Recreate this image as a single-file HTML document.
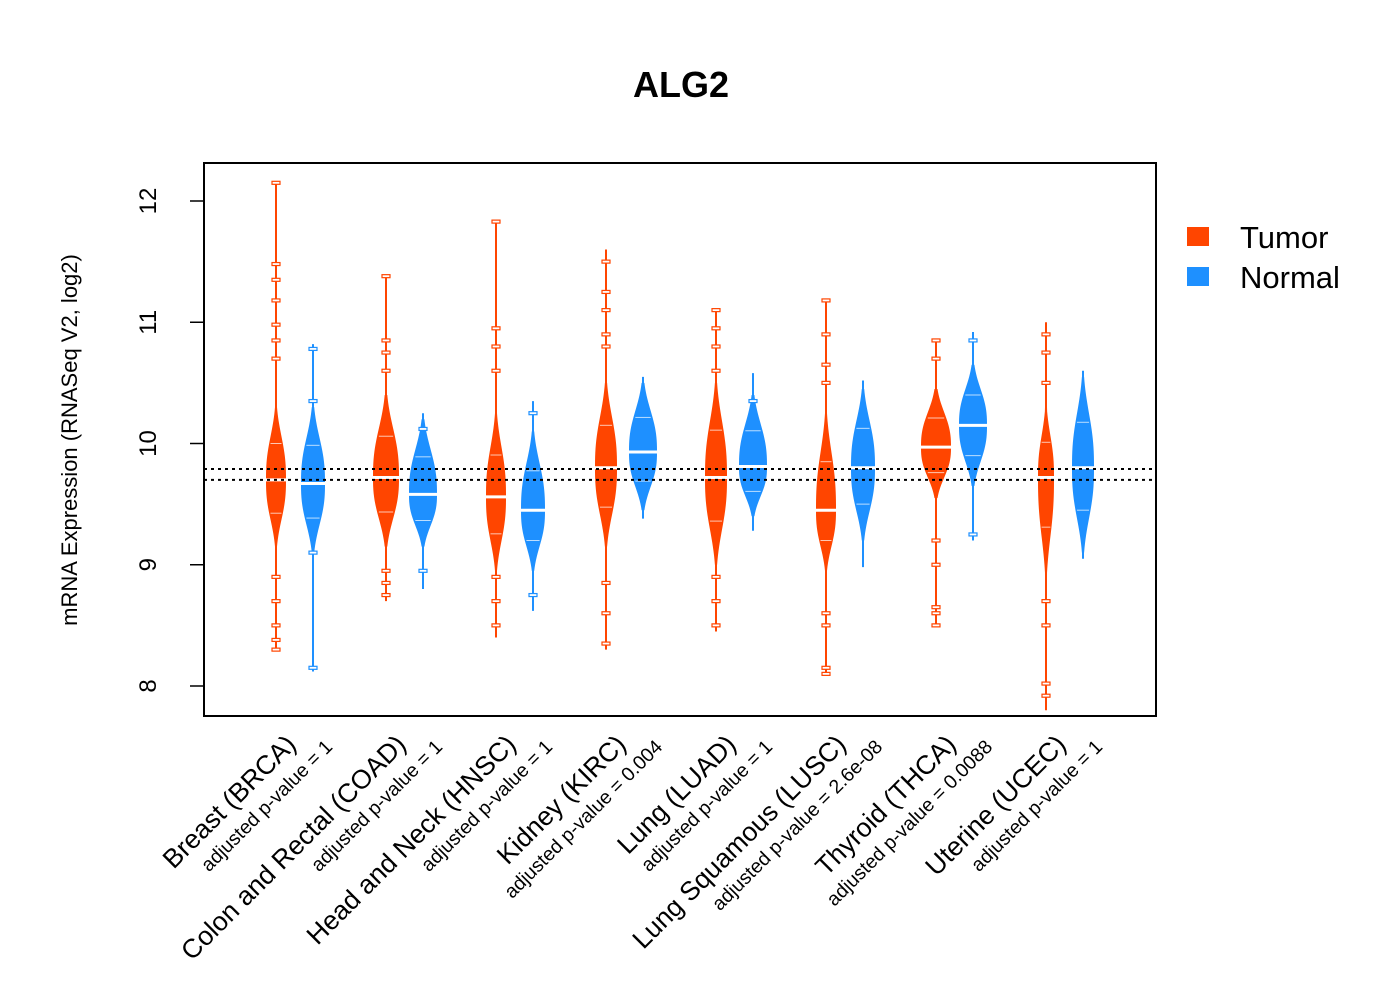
<!DOCTYPE html>
<html><head><meta charset="utf-8"><style>
html,body{margin:0;padding:0;background:#fff;}
svg{display:block;font-family:"Liberation Sans",Arial,sans-serif;}
</style></head><body>
<svg id="chart" width="1400" height="1000" viewBox="0 0 1400 1000" xmlns="http://www.w3.org/2000/svg">
<rect width="1400" height="1000" fill="#fff"/>
<text x="681" y="97" text-anchor="middle" font-size="36" font-weight="bold">ALG2</text>
<text transform="translate(77,440) rotate(-90)" text-anchor="middle" font-size="22">mRNA Expression (RNASeq V2, log2)</text>
<g id="plot"></g>
<rect x="204" y="163" width="952" height="553" fill="none" stroke="#000" stroke-width="2"/>
<g>
<rect x="1187" y="227" width="22" height="19" fill="#FF4500"/>
<text x="1240" y="248" font-size="31">Tumor</text>
<rect x="1187" y="267" width="22" height="19" fill="#1E90FF"/>
<text x="1240" y="288" font-size="31">Normal</text>
</g>
</svg>
<script>
const categories=["Breast (BRCA)","Colon and Rectal (COAD)","Head and Neck (HNSC)","Kidney (KIRC)","Lung (LUAD)","Lung Squamous (LUSC)","Thyroid (THCA)","Uterine (UCEC)"];
const pvalues=["1","1","1","0.004","1","2.6e-08","0.0088","1"];
const tumorMedian=[9.70,9.72,9.56,9.80,9.72,9.45,9.97,9.72];
const tumorLo=[9.15,9.15,8.95,9.15,9.00,8.95,9.55,8.90];
const tumorHi=[10.30,10.40,10.25,10.50,10.50,10.25,10.45,10.30];
const tumorMin=[8.30,8.70,8.40,8.30,8.45,8.10,8.50,7.80];
const tumorMax=[12.15,11.38,11.83,11.60,11.10,11.18,10.85,11.00];
const tumorWidth=[10,13,10,11,11,10,15,8];
const normalMedian=[9.67,9.58,9.45,9.93,9.81,9.80,10.15,9.80];
const normalLo=[9.10,9.15,8.95,9.45,9.40,9.20,9.65,9.10];
const normalHi=[10.30,10.20,10.10,10.50,10.40,10.45,10.65,10.55];
const normalMin=[8.12,8.80,8.62,9.38,9.28,8.98,9.20,9.05];
const normalMax=[10.82,10.25,10.35,10.55,10.58,10.52,10.92,10.60];
const normalWidth=[12,14,12,14,14,12,14,11];
const tumorOutliers=[[12.15,11.48,11.35,11.18,10.98,10.85,10.7,8.9,8.7,8.5,8.38,8.30],[11.38,10.85,10.75,10.6,8.95,8.85,8.75],[11.83,10.95,10.8,10.6,8.9,8.7,8.5],[11.5,11.25,11.1,10.9,10.8,8.85,8.6,8.35],[11.1,10.95,10.8,10.6,8.9,8.7,8.5],[11.18,10.9,10.65,10.5,8.6,8.5,8.15,8.1],[10.85,10.7,9.2,9.0,8.65,8.6,8.5],[10.9,10.75,10.5,8.7,8.5,8.02,7.92]];
const normalOutliers=[[10.78,10.35,9.1,8.15],[10.12,8.95],[10.25,8.75],[],[10.35],[],[10.85,9.25],[]];
const yTicks=[8,9,10,11,12];
const refLines=[9.79,9.70];

const NS="http://www.w3.org/2000/svg";
const plot=document.getElementById('plot');
const svg=document.getElementById('chart');
function yS(v){return 443.5-(v-10)*121.25;}
function xT(i){return 276+i*110;}
function xN(i){return 313+i*110;}
function mk(t,a,p){const e=document.createElementNS(NS,t);for(const k in a)e.setAttribute(k,a[k]);(p||plot).appendChild(e);return e;}

yTicks.forEach(v=>{
  const l=mk('line',{x1:190,x2:204,y1:yS(v),y2:yS(v),stroke:'#000','stroke-width':1.5},svg);
  
  
  const t=mk('text',{transform:`translate(156,${yS(v)}) rotate(-90)`,'text-anchor':'middle','font-size':24},svg);
  t.textContent=v;
  
  
});
mk('line',{x1:204,x2:204,y1:yS(12),y2:yS(8),stroke:'#000','stroke-width':1.5},svg);

function bean(cx,med,lo,hi,mn,mx,w,outs,col,name){
  const g=mk('g',{});
  
  
  mk('line',{x1:cx,x2:cx,y1:yS(mx),y2:yS(mn),stroke:col,'stroke-width':2},g);
  const up=hi-med, dn=med-lo;
  const L=[],R=[];
  for(let k=0;k<=40;k++){
    const v=lo+(hi-lo)*k/40;
    const s=v>=med?up/1.8:dn/1.8;
    const hw=Math.max(1,w*Math.exp(-0.5*Math.pow(Math.abs(v-med)/s,2.6)));
    L.push([cx-hw,yS(v)]);R.push([cx+hw,yS(v)]);
  }
  const pts=L.concat(R.reverse()).map(p=>p.join(',')).join(' ');
  mk('polygon',{points:pts,fill:col},g);
  outs.forEach(o=>{
    mk('rect',{x:cx-4,y:yS(o)-1.5,width:8,height:3,fill:'#fff',stroke:col,'stroke-width':1.2},g);
  });
  mk('line',{x1:cx-w*0.55,x2:cx+w*0.55,y1:yS(med+(hi-med)*0.5),y2:yS(med+(hi-med)*0.5),stroke:'#fff','stroke-width':1,opacity:0.7},g);
  mk('line',{x1:cx-w*0.55,x2:cx+w*0.55,y1:yS(med-(med-lo)*0.5),y2:yS(med-(med-lo)*0.5),stroke:'#fff','stroke-width':1,opacity:0.7},g);
  mk('line',{x1:cx-w-3,x2:cx+w+3,y1:yS(med),y2:yS(med),stroke:'#fff','stroke-width':3},g);
}
categories.forEach((c,i)=>{
  bean(xT(i),tumorMedian[i],tumorLo[i],tumorHi[i],tumorMin[i],tumorMax[i],tumorWidth[i],tumorOutliers[i],'#FF4500','tumor-bean-'+i);
  bean(xN(i),normalMedian[i],normalLo[i],normalHi[i],normalMin[i],normalMax[i],normalWidth[i],normalOutliers[i],'#1E90FF','normal-bean-'+i);
  const cx=294.5+i*110;
  const t=mk('text',{transform:`translate(${cx+3},746) rotate(-45)`,'text-anchor':'end','font-size':26.5},svg);
  t.textContent=c;
  
  
  const p=mk('text',{transform:`translate(${cx+39},748) rotate(-45)`,'text-anchor':'end','font-size':19.5},svg);
  p.textContent='adjusted p-value = '+pvalues[i];
  
  
});
refLines.forEach(v=>{
  const l=mk('line',{x1:204,x2:1156,y1:yS(v),y2:yS(v),stroke:'#000','stroke-width':2,'stroke-dasharray':'3,4'});
  
  
});
</script>
</body></html>
